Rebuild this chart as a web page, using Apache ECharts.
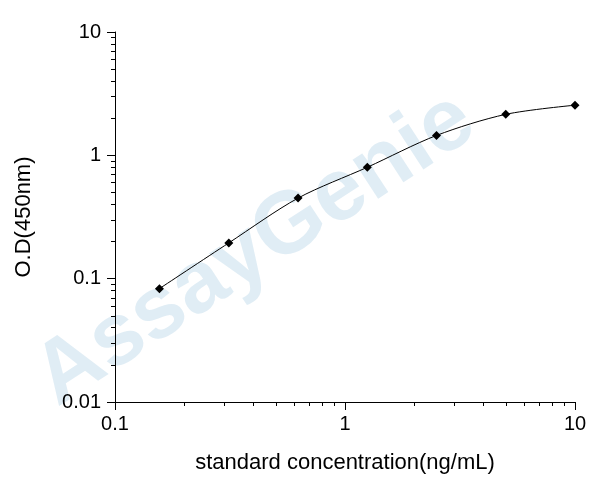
<!DOCTYPE html>
<html>
<head>
<meta charset="utf-8">
<script src="https://cdn.jsdelivr.net/npm/echarts@6/dist/echarts.min.js"></script>
<style>html,body{margin:0;padding:0;background:#fff}#c{width:590px;height:500px}</style>
</head>
<body>
<div id="c"></div>
<script>
// 标准曲线数据
const concentrations = [0.156, 0.3125, 0.625, 1.25, 2.5, 5, 10];
const odValues = [0.083, 0.195, 0.45, 0.8, 1.45, 2.15, 2.55];

const chart = echarts.init(document.getElementById('c'));
const axisFont = { fontFamily: 'Liberation Sans, Arial', fontSize: 20, color: '#000' };
const nameFont = { fontFamily: 'Liberation Sans, Arial', fontSize: 22, color: '#000' };

chart.setOption({
    animation: false,
    grid: { left: 115, right: 15, top: 32, bottom: 98 },
    graphic: [{
        type: 'text',
        rotation: Math.PI / 180 * 33,
        style: {
            text: 'AssayGenie',
            font: 'bold 88px Liberation Sans, Arial',
            fill: 'rgba(130,185,215,0.25)'
        },
        x: 20, y: 350, z: 0
    }],
    xAxis: {
        type: 'log', min: 0.1, max: 10, logBase: 10,
        name: 'standard concentration(ng/mL)',
        nameLocation: 'middle', nameGap: 50,
        nameTextStyle: nameFont,
        axisLine: { lineStyle: { color: '#000' } },
        axisTick: { inside: false, length: 8, lineStyle: { color: '#000' } },
        minorTick: { show: true, splitNumber: 9, length: 4, lineStyle: { color: '#000' } },
        axisLabel: { ...axisFont, margin: 12 },
        splitLine: { show: false }
    },
    yAxis: {
        type: 'log', min: 0.01, max: 10, logBase: 10,
        name: 'O.D(450nm)',
        nameLocation: 'middle', nameGap: 80, nameRotate: 90,
        nameTextStyle: nameFont,
        axisLine: { show: true, lineStyle: { color: '#000' } },
        axisTick: { show: true, length: 8, lineStyle: { color: '#000' } },
        minorTick: { show: true, splitNumber: 9, length: 4, lineStyle: { color: '#000' } },
        axisLabel: { ...axisFont, margin: 14 },
        splitLine: { show: false }
    },
    series: [{
        type: 'line',
        data: concentrations.map((x, i) => [x, odValues[i]]),
        smooth: 0.3,
        symbol: 'diamond',
        symbolSize: 9,
        lineStyle: { color: '#000', width: 1 },
        itemStyle: { color: '#000' },
        z: 5
    }]
});
</script>
</body>
</html>
